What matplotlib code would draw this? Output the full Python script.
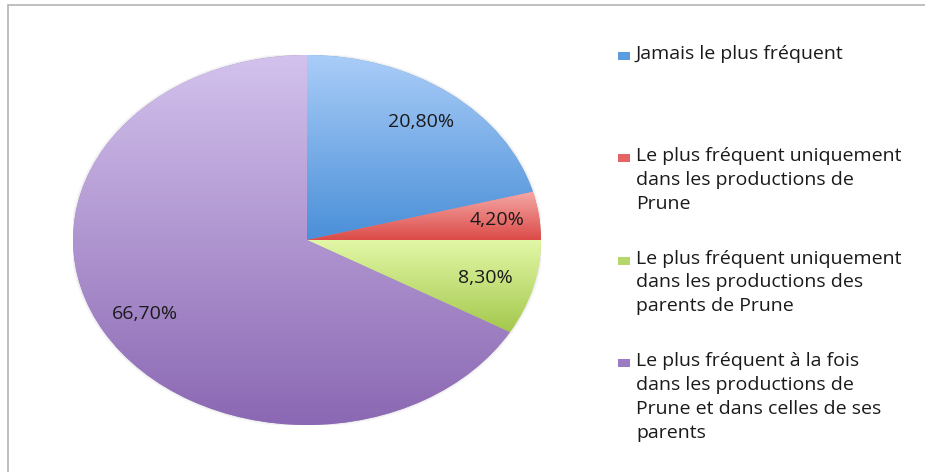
import matplotlib
matplotlib.use("Agg")
import matplotlib.pyplot as plt
import numpy as np
from matplotlib.colors import LinearSegmentedColormap
from matplotlib.patches import Rectangle, Ellipse

# data
labels = ["Jamais le plus fréquent",
          "Le plus fréquent uniquement\ndans les productions de\nPrune",
          "Le plus fréquent uniquement\ndans les productions des\nparents de Prune",
          "Le plus fréquent à la fois\ndans les productions de\nPrune et dans celles de ses\nparents"]
values = [20.8, 4.2, 8.3, 66.7]
pct_text = ["20,80%", "4,20%", "8,30%", "66,70%"]

# gradient colours (top, bottom) per slice
top_colors = ["#aacdf8", "#f5a9a6", "#e3f8a8", "#d3c2ed"]
bottom_colors = ["#4a8fd8", "#db4b48", "#a4c84c", "#8b68b3"]
legend_colors = ["#5b9be0", "#e36461", "#b4d66a", "#9b7cc4"]

plt.rcParams['font.family'] = ['Open Sans', 'DejaVu Sans']

fig = plt.figure(figsize=(9.25, 4.72), dpi=100)

# grey frame (top and left visible)
fig.patches.append(Rectangle((8 / 925, -0.1), 1.2, 1.1 - 5 / 472,
                             transform=fig.transFigure, fill=False,
                             edgecolor="#b4b4b4", lw=1.2, zorder=0))

ax = fig.add_axes([73 / 925, 47 / 472, 468 / 925, 370 / 472])
wedges, _ = ax.pie(values, startangle=90, counterclock=False,
                   colors=legend_colors, wedgeprops=dict(edgecolor="none"))

# soft shadow round the pie
for k, a in [(1.012, 0.06), (1.006, 0.08)]:
    ax.add_patch(Ellipse((0, 0), 2 * k, 2 * k, facecolor="#808080",
                         edgecolor="none", alpha=a, zorder=0))

for w, c_top, c_bot in zip(wedges, top_colors, bottom_colors):
    bb = w.get_path().get_extents()
    cmap = LinearSegmentedColormap.from_list("g", [c_bot, c_top])
    grad = np.linspace(0, 1, 256).reshape(-1, 1)
    im = ax.imshow(grad, cmap=cmap, origin="lower", aspect="auto",
                   extent=[bb.x0, bb.x1, bb.y0, bb.y1], zorder=2,
                   interpolation="bilinear")
    im.set_clip_path(w)

# percentage labels
pct_dist = [0.8, 0.82, 0.79, 0.8]
angles = 90 - 360 * (np.cumsum(values) - np.array(values) / 2) / 100.0
for a, t, d in zip(angles, pct_text, pct_dist):
    r = np.deg2rad(a)
    ax.text(d * np.cos(r), d * np.sin(r), t, ha="center",
            va="center", fontsize=14, color="#1a1a1a", zorder=5)

ax.set_aspect("auto")
ax.set_xlim(-1, 1)
ax.set_ylim(-1, 1)
ax.axis("off")

# legend, entries spaced evenly like Excel
leg_top = 472 - 56
step = 102.3
for i, (lab, col) in enumerate(zip(labels, legend_colors)):
    yc = (leg_top - i * step) / 472
    fig.patches.append(Rectangle((618 / 925, yc - 4 / 472), 12 / 925, 8 / 472,
                                 transform=fig.transFigure, facecolor=col,
                                 edgecolor="none"))
    fig.text(636 / 925, yc + 11 / 472, lab, ha="left", va="top", fontsize=14,
             color="#1a1a1a", linespacing=1.42)

fig.savefig("out.png", dpi=100)
